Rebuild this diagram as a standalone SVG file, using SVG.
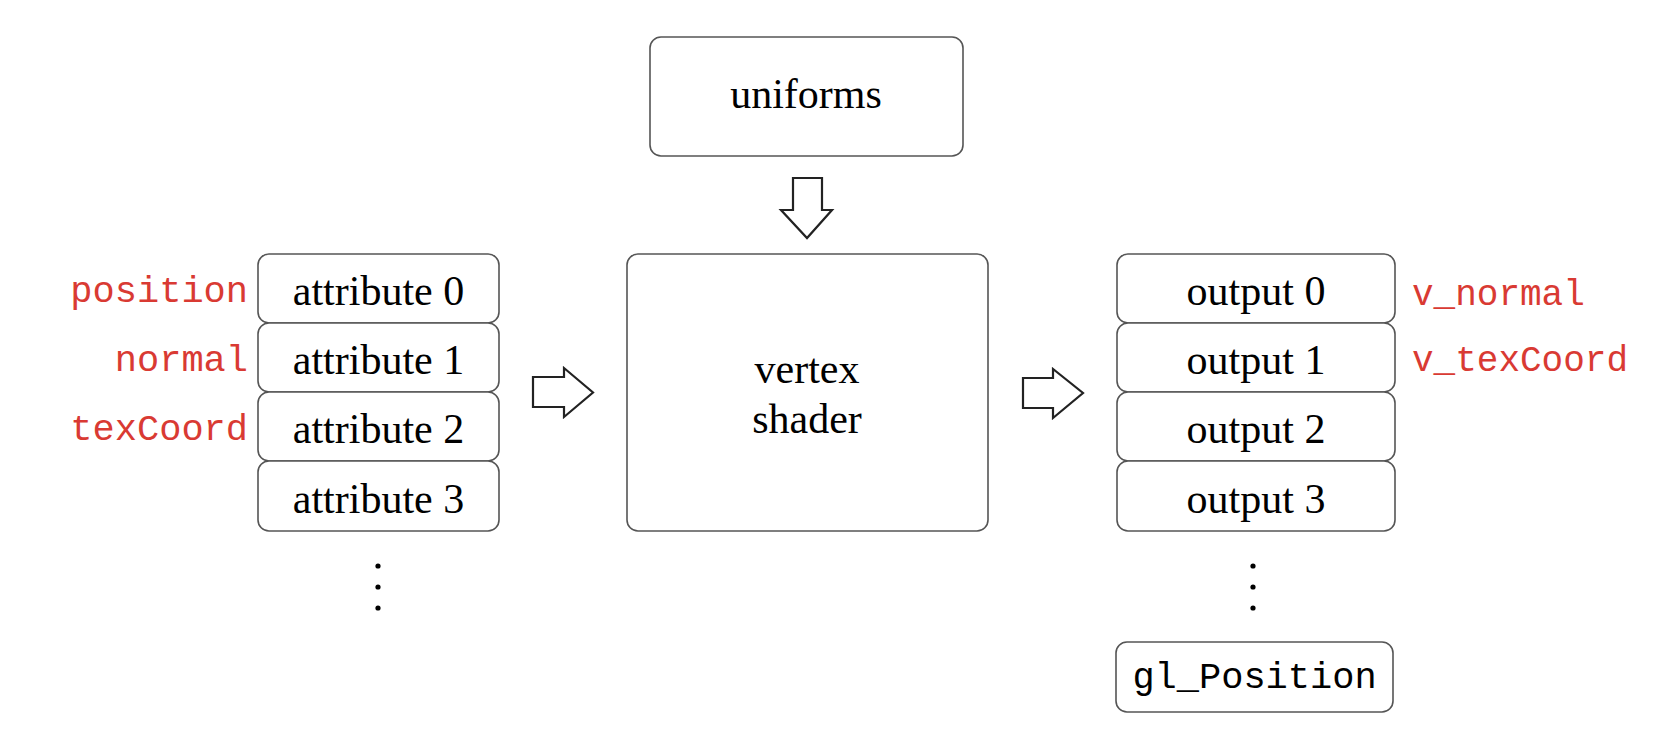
<svg xmlns="http://www.w3.org/2000/svg" width="1670" height="748" viewBox="0 0 1670 748">
<style>
.box{fill:#fff;stroke:#555;stroke-width:1.6}
.arrow{fill:#fff;stroke:#222;stroke-width:2.2;stroke-linejoin:miter}
.t{font-family:"Liberation Serif","Times New Roman",serif;font-size:42px;fill:#000;text-anchor:middle}
.m{font-family:"Liberation Mono","Courier New",monospace;font-size:36px;fill:#d93a33}
.ml{font-size:37px}
.mb{font-family:"Liberation Mono","Courier New",monospace;font-size:37px;fill:#000;text-anchor:middle}
.dot{fill:#000}
</style>
<rect width="1670" height="748" fill="#fff"/>
<g id="uniforms">
<rect class="box" x="650" y="37" width="313" height="119" rx="11"/>
<text class="t" x="806" y="108">uniforms</text>
</g>
<g id="vertex-shader">
<rect class="box" x="627" y="254" width="361" height="277" rx="11"/>
<text class="t" x="807" y="383">vertex</text>
<text class="t" x="807" y="433">shader</text>
</g>
<g id="attribute-0">
<rect class="box" x="258" y="254" width="241" height="69" rx="11"/>
<text class="t" x="378.5" y="305">attribute 0</text>
<text class="m ml" x="248" y="302" text-anchor="end">position</text>
</g>
<g id="attribute-1">
<rect class="box" x="258" y="323" width="241" height="69" rx="11"/>
<text class="t" x="378.5" y="374">attribute 1</text>
<text class="m ml" x="248" y="371" text-anchor="end">normal</text>
</g>
<g id="attribute-2">
<rect class="box" x="258" y="392" width="241" height="69" rx="11"/>
<text class="t" x="378.5" y="443">attribute 2</text>
<text class="m ml" x="248" y="440" text-anchor="end">texCoord</text>
</g>
<g id="attribute-3">
<rect class="box" x="258" y="461" width="241" height="70" rx="11"/>
<text class="t" x="378.5" y="513">attribute 3</text>
</g>
<g id="attribute-dots">
<circle class="dot" cx="378" cy="566" r="2.6"/>
<circle class="dot" cx="378" cy="587" r="2.6"/>
<circle class="dot" cx="378" cy="608" r="2.6"/>
</g>
<g id="output-0">
<rect class="box" x="1117" y="254" width="278" height="69" rx="11"/>
<text class="t" x="1256" y="305">output 0</text>
<text class="m" x="1412" y="305">v_normal</text>
</g>
<g id="output-1">
<rect class="box" x="1117" y="323" width="278" height="69" rx="11"/>
<text class="t" x="1256" y="374">output 1</text>
<text class="m" x="1412" y="371">v_texCoord</text>
</g>
<g id="output-2">
<rect class="box" x="1117" y="392" width="278" height="69" rx="11"/>
<text class="t" x="1256" y="443">output 2</text>
</g>
<g id="output-3">
<rect class="box" x="1117" y="461" width="278" height="70" rx="11"/>
<text class="t" x="1256" y="513">output 3</text>
</g>
<g id="output-dots">
<circle class="dot" cx="1253" cy="566" r="2.6"/>
<circle class="dot" cx="1253" cy="587" r="2.6"/>
<circle class="dot" cx="1253" cy="608" r="2.6"/>
</g>
<g id="gl-position">
<rect class="box" x="1116" y="642" width="277" height="70" rx="11"/>
<text class="mb" x="1254.5" y="688">gl_Position</text>
</g>
<g id="connectors">
<polygon class="arrow" points="793,178 822,178 822,210 832,210 807,238 781,210 793,210"/>
<polygon class="arrow" points="533,377 564,377 564,368 593,392.5 564,417 564,407 533,407"/>
<polygon class="arrow" points="1023,378 1053,378 1053,369 1083,393 1053,418 1053,408 1023,408"/>
</g>
</svg>
